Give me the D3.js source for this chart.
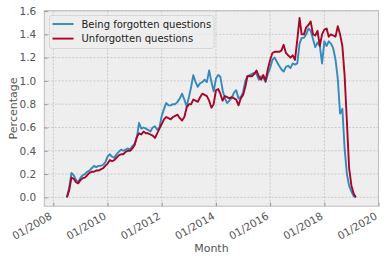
<!DOCTYPE html>
<html><head><meta charset="utf-8">
<script src="https://cdn.jsdelivr.net/npm/d3@7"></script>
<style>body{margin:0;background:#fff}svg{display:block;font-family:"DejaVu Sans",sans-serif}</style>
</head><body><svg id="c" width="385" height="263"></svg>
<script>
const startMonth = "2008-07";
const seriesNames = ["Being forgotten questions", "Unforgotten questions"];
const seriesColors = ["#348ABD", "#A60628"];
const forgotten = [0.00,0.08,0.21,0.19,0.15,0.13,0.17,0.19,0.20,0.22,0.23,0.25,0.27,0.26,0.27,0.27,0.28,0.30,
0.35,0.37,0.35,0.34,0.37,0.39,0.41,0.40,0.41,0.42,0.41,0.44,
0.46,0.52,0.64,0.59,0.60,0.59,0.58,0.565,0.60,0.61,0.58,0.60,
0.70,0.76,0.81,0.79,0.79,0.80,0.80,0.82,0.85,0.89,0.84,0.78,
0.86,0.95,1.05,0.99,0.95,0.98,0.99,1.01,0.99,1.09,0.99,0.91,
1.02,1.05,1.035,0.92,0.85,0.81,0.83,0.855,0.90,0.92,0.85,0.86,
0.90,1.00,1.04,1.05,1.06,1.07,1.06,1.01,1.04,1.03,0.99,1.06,
1.11,1.18,1.20,1.165,1.13,1.10,1.08,1.12,1.13,1.11,1.15,1.14,
1.15,1.32,1.37,1.37,1.40,1.45,1.43,1.36,1.29,1.33,1.30,1.15,
1.34,1.30,1.34,1.32,1.28,1.18,1.02,0.72,0.76,0.42,0.20,0.10,
0.05,0.01,0.00];
const unforgotten = [0.00,0.06,0.17,0.16,0.13,0.12,0.15,0.165,0.17,0.19,0.21,0.22,0.22,0.23,0.23,0.24,0.25,0.27,
0.29,0.32,0.31,0.32,0.34,0.36,0.37,0.37,0.39,0.40,0.40,0.42,
0.45,0.52,0.55,0.54,0.565,0.55,0.55,0.54,0.53,0.51,0.55,0.59,
0.63,0.67,0.69,0.68,0.67,0.69,0.70,0.71,0.68,0.66,0.69,0.77,
0.80,0.80,0.84,0.83,0.82,0.86,0.89,0.88,0.87,0.83,0.77,0.80,
0.92,0.93,0.89,0.83,0.87,0.86,0.85,0.86,0.85,0.84,0.79,0.85,
0.88,0.95,1.04,1.04,1.04,1.06,1.09,1.04,1.01,1.05,1.00,1.10,
1.18,1.24,1.25,1.25,1.25,1.26,1.31,1.24,1.22,1.20,1.22,1.18,
1.35,1.54,1.40,1.40,1.46,1.48,1.51,1.40,1.39,1.43,1.30,1.40,
1.44,1.45,1.38,1.40,1.39,1.38,1.47,1.40,1.30,1.05,0.65,0.25,
0.10,0.03,0.00];
const yTicks = [0.0,0.2,0.4,0.6,0.8,1.0,1.2,1.4,1.6];
const xTickYears = [2008,2010,2012,2014,2016,2018,2020];

const svg = d3.select("#c");
const L=44.3, R=378.5, T=10.7, B=206.2;
const x = d3.scaleTime().domain([new Date(2007,8,1), new Date(2020,0,1)]).range([L,R]);
const y = d3.scaleLinear().domain([-0.076,1.603]).range([B,T]);
const [sy, sm] = startMonth.split("-").map(Number);
const dateAt = i => new Date(sy, sm-1+i, 1);

svg.append("rect").attr("x",L).attr("y",T).attr("width",R-L).attr("height",B-T).attr("fill","#eeeeee");
// grid
const gx = svg.append("g");
xTickYears.forEach(yr=>{
  const px = x(new Date(yr,0,1));
  gx.append("line").attr("x1",px).attr("x2",px).attr("y1",T).attr("y2",B)
    .attr("stroke","#b2b2b2").attr("stroke-width",0.6).attr("stroke-dasharray","2,1.5");
});
yTicks.forEach(v=>{
  gx.append("line").attr("x1",L).attr("x2",R).attr("y1",y(v)).attr("y2",y(v))
    .attr("stroke","#b2b2b2").attr("stroke-width",0.6).attr("stroke-dasharray","2,1.5");
});
// lines
const line = d3.line().x((d,i)=>x(dateAt(i))).y(d=>y(d));
[forgotten, unforgotten].forEach((s,k)=>{
  svg.append("path").datum(s).attr("d",line).attr("fill","none")
    .attr("stroke",seriesColors[k]).attr("stroke-width",1.9).attr("stroke-linejoin","round");
});
// frame
svg.append("rect").attr("x",L).attr("y",T).attr("width",R-L).attr("height",B-T)
  .attr("fill","none").attr("stroke","#bcbcbc").attr("stroke-width",1);
// axes
const yAxis = d3.axisLeft(y).tickValues(yTicks).tickFormat(d3.format(".1f")).tickSizeInner(-3.5).tickSizeOuter(0).tickPadding(8);
const ga = svg.append("g").attr("transform",`translate(${L},0)`).call(yAxis);
ga.select(".domain").remove();
ga.selectAll("line").attr("stroke","#999");
ga.selectAll("text").attr("fill","#555").style("font-size","10.5px").style("font-family","DejaVu Sans");

const xAxis = d3.axisBottom(x).tickValues(xTickYears.map(yr=>new Date(yr,0,1))).tickFormat(d3.timeFormat("%m/%Y")).tickSizeInner(-3.5).tickSizeOuter(0);
const gb = svg.append("g").attr("transform",`translate(0,${B})`).call(xAxis);
gb.select(".domain").remove();
gb.selectAll("line").attr("stroke","#999");
gb.selectAll("text").attr("fill","#555").style("font-size","10.5px").style("font-family","DejaVu Sans")
  .attr("text-anchor","end").attr("y",0).attr("dy",0)
  .attr("transform","translate(-1,12) rotate(-30)");

svg.append("text").attr("x",(L+R)/2).attr("y",252).attr("text-anchor","middle")
  .attr("fill","#555").style("font-size","11px").text("Month");
svg.append("text").attr("transform",`translate(17,${(T+B)/2}) rotate(-90)`).attr("text-anchor","middle")
  .attr("fill","#555").style("font-size","11px").text("Percentage");

// legend
const lg = svg.append("g");
lg.append("rect").attr("x",49.5).attr("y",15.5).attr("width",164.5).attr("height",33).attr("rx",2.5)
  .attr("fill","#eeeeee").attr("fill-opacity",0.8).attr("stroke","#d0d0d0").attr("stroke-width",0.8);
seriesNames.forEach((n,k)=>{
  const cy = 24 + k*14.6;
  lg.append("line").attr("x1",52.5).attr("x2",73.5).attr("y1",cy).attr("y2",cy)
    .attr("stroke",seriesColors[k]).attr("stroke-width",1.9);
  lg.append("text").attr("x",81.5).attr("y",cy).attr("dy","0.35em").attr("fill","#222")
    .style("font-size","10px").text(n);
});
</script></body></html>
